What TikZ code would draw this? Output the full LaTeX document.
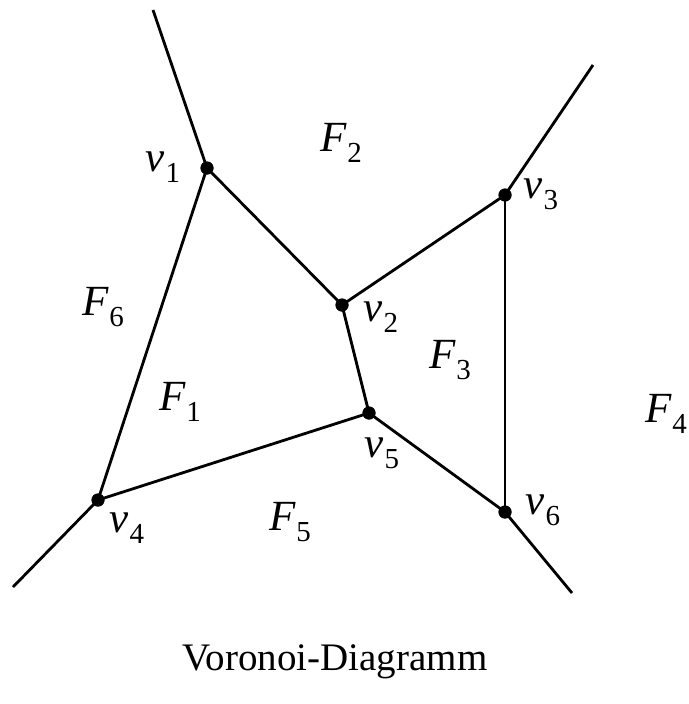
\documentclass[tikz,border=0pt]{standalone}
\usepackage{fontspec}
\setmainfont{Liberation Serif}
\newcommand\lbl[2]{\textit{#1}\kern0.01em\raisebox{-0.26em}{\fontsize{29}{29}\selectfont #2}}
\begin{document}
\begin{tikzpicture}[x=1pt,y=-1pt,
  edge/.style={line width=2.8pt},
  vtx/.style={circle,fill=black,inner sep=0pt,minimum size=13pt},
  lab/.style={font=\fontsize{43}{43}\selectfont,inner sep=0pt,anchor=center}]
\useasboundingbox (0,0) rectangle (688,704);
\node[vtx] (v1) at (207,168) {};
\node[vtx] (v2) at (342,305) {};
\node[vtx] (v3) at (505,195) {};
\node[vtx] (v4) at (98,500) {};
\node[vtx] (v5) at (369,413) {};
\node[vtx] (v6) at (505,512) {};
\coordinate (e1) at (153,10);
\coordinate (e3) at (593,65);
\coordinate (e4) at (13,587);
\coordinate (e6) at (572,593);
\draw[edge] (v1.center) -- (e1);
\draw[edge] (v3.center) -- (e3);
\draw[edge] (v4.center) -- (e4);
\draw[edge] (v6.center) -- (e6);
\draw[edge] (v1.center) -- (v2.center);
\draw[edge] (v1.center) -- (v4.center);
\draw[edge] (v2.center) -- (v3.center);
\draw[edge] (v2.center) -- (v5.center);
\draw[edge] (v3.center) -- (v6.center);
\draw[edge] (v4.center) -- (v5.center);
\draw[edge] (v5.center) -- (v6.center);
\node[vtx] at (v1) {};
\node[vtx] at (v2) {};
\node[vtx] at (v3) {};
\node[vtx] at (v4) {};
\node[vtx] at (v5) {};
\node[vtx] at (v6) {};
\node[lab] (lv1) at (163,167) {\lbl{v}{1}};
\node[lab] (lv2) at (381,317) {\lbl{v}{2}};
\node[lab] (lv3) at (541,194) {\lbl{v}{3}};
\node[lab] (lv4) at (127,528) {\lbl{v}{4}};
\node[lab] (lv5) at (382,453) {\lbl{v}{5}};
\node[lab] (lv6) at (543,510) {\lbl{v}{6}};
\node[lab] (f1) at (180,402) {\lbl{F}{1}};
\node[lab] (f2) at (341,143) {\lbl{F}{2}};
\node[lab] (f3) at (450,360) {\lbl{F}{3}};
\node[lab] (f4) at (666,414) {\lbl{F}{4}};
\node[lab] (f5) at (290,522) {\lbl{F}{5}};
\node[lab] (f6) at (103,307) {\lbl{F}{6}};
\node[font=\fontsize{39}{39}\selectfont,inner sep=0pt,anchor=base] (cap) at (335,670) {Voronoi-Diagramm};
\end{tikzpicture}
\end{document}
